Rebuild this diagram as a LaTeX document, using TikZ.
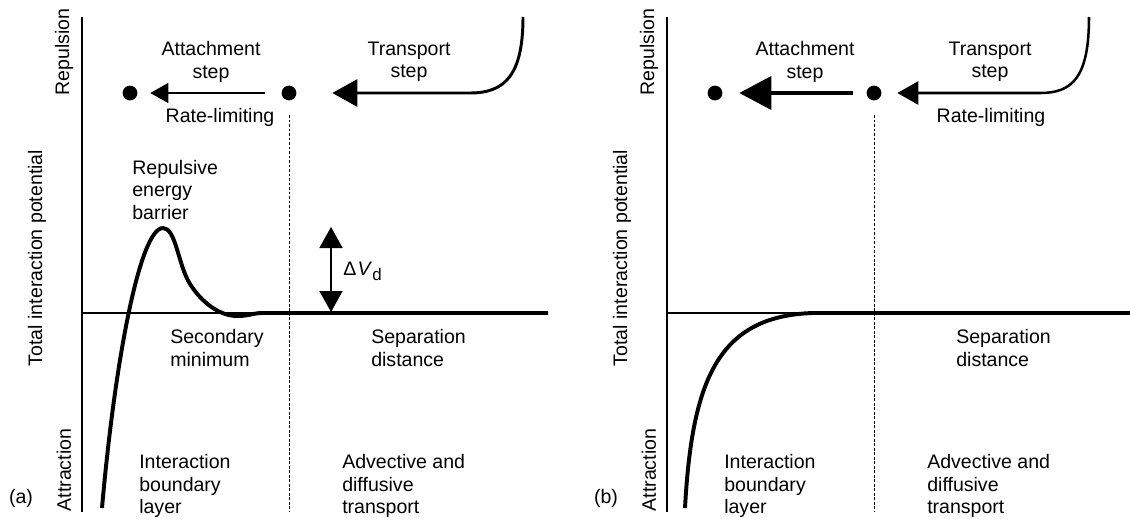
\documentclass[tikz,border=0pt]{standalone}
\usepackage{fontspec}
\setmainfont{Liberation Sans}
\usetikzlibrary{arrows.meta, positioning}

\begin{document}
\begin{tikzpicture}[x=0.025cm, y=-0.025cm,
    every node/.style={font=\fontsize{13.9pt}{16pt}\selectfont, inner sep=0pt},
    axis/.style={line width=0.9pt},
    curve/.style={line width=2.8pt, line join=round},
    sepline/.style={line width=0.6pt, dash pattern=on 2pt off 1.2pt},
    dot/.style={circle, fill=black, minimum size=0.37cm},
    lbl/.style={align=left, anchor=west},
    clbl/.style={align=center}]
    \useasboundingbox (0,0) rectangle (1130,520);

    % axes, particles and region labels shared by both panels
    \foreach \dx/\tag in {0/a, 585/b} {
        \coordinate (o-\tag) at (\dx+82,313);
        \draw[axis] (\dx+82,17) -- (\dx+82,512);
        \draw[axis] (o-\tag) -- (\dx+545,313);
        \draw[sepline] (\dx+289,115) -- (\dx+289,512);
        \node[dot] (far-\tag) at (\dx+130,93) {};
        \node[dot] (mid-\tag) at (\dx+289,93) {};
        \node[rotate=90] (rep-\tag) at (\dx+64,52) {Repulsion};
        \node[rotate=90] (pot-\tag) at (\dx+37,258) {Total interaction potential};
        \node[rotate=90] (att-\tag) at (\dx+64,470) {Attraction};
        \node (tag-\tag) at (\dx+21,498) {(\tag)};
        \node[lbl] (sep-\tag) at (\dx+371,348) {Separation\\distance};
        \node[lbl] (layer-\tag) at (\dx+139,486) {Interaction\\boundary\\layer};
        \node[lbl] (adv-\tag) at (\dx+342,486) {Advective and\\diffusive\\transport};
    }

    % (a) attachment is rate-limiting
    \node[clbl] (step1-a) at (211,62) {Attachment\\step};
    \node[clbl] (step2-a) at (409,62) {Transport\\step};
    \node (rate-a) at (220,117) {Rate-limiting};
    \coordinate (top-a) at (523,17);
    \draw[line width=2.1pt, -{Triangle[length=0.625cm, width=0.675cm]}, shorten >=0.89cm]
        (top-a) .. controls (523,75) and (505,93) .. (470,93) -- (mid-a);
    \draw[line width=0.8pt, -{Triangle[length=0.45cm, width=0.5cm]},
        shorten <=0.415cm, shorten >=0.315cm] (mid-a) -- (far-a);

    \draw[curve] (102,508) .. controls (115,360) and (140,228) .. (163,228)
        .. controls (176,228) and (178,265) .. (190,284)
        .. controls (202,303) and (220,316) .. (237,316)
        .. controls (250,316) and (252,313) .. (263,313) -- (548,313);
    \node[lbl] (barrier) at (132,190) {Repulsive\\energy\\barrier};
    \node[lbl] (secmin) at (170,348) {Secondary\\minimum};

    \coordinate (dv-top) at (331,227);
    \coordinate (dv-bot) at (331,312);
    \draw[line width=1.1pt, {Triangle[length=0.525cm, width=0.575cm]}-{Triangle[length=0.525cm, width=0.575cm]}]
        (dv-top) -- (dv-bot);
    \node[anchor=west] (dv) at (343,271) {Δ\kern1pt\textit{V}\raisebox{-0.5ex}{\fontsize{12pt}{12pt}\selectfont d}};

    % (b) transport is rate-limiting
    \node[clbl] (step1-b) at (805,62) {Attachment\\step};
    \node[clbl] (step2-b) at (990,62) {Transport\\step};
    \node (rate-b) at (991,117) {Rate-limiting};
    \coordinate (top-b) at (1089,17);
    \draw[line width=1.8pt, -{Triangle[length=0.525cm, width=0.575cm]}, shorten >=0.39cm]
        (top-b) .. controls (1089,78) and (1072,93) .. (1040,93) -- (mid-b);
    \draw[line width=2.8pt, -{Triangle[length=0.8cm, width=0.825cm]},
        shorten <=0.34cm, shorten >=0.415cm] (mid-b) -- (far-b);

    \draw[curve] (685,508) .. controls (692,380) and (718,316) .. (813,313) -- (1130,313);
\end{tikzpicture}
\end{document}
